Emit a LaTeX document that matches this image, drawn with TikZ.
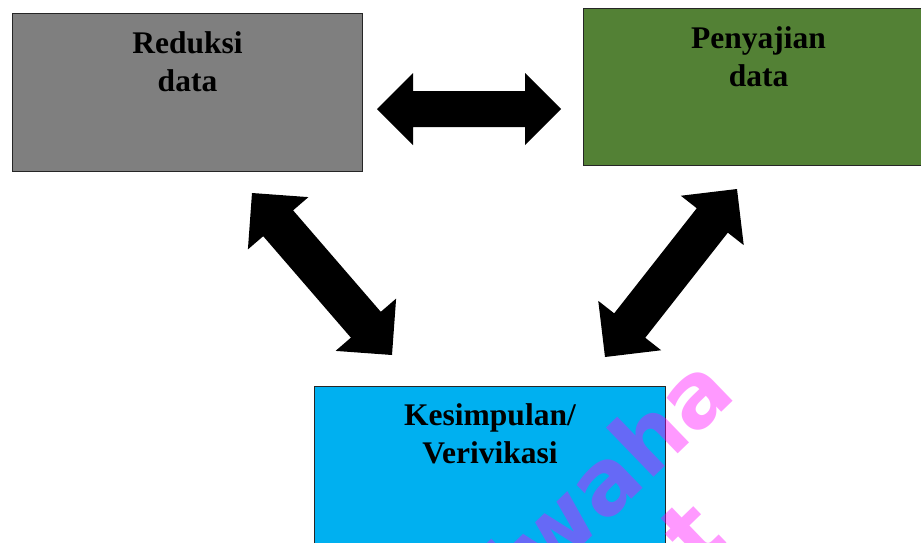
\documentclass[tikz,border=0pt]{standalone}
\usepackage{fontspec}
\setmainfont{Liberation Serif}
\newfontfamily\wmfont{DejaVu Sans}
\usetikzlibrary{calc,positioning}
\definecolor{reduksi}{HTML}{7F7F7F}
\definecolor{penyajian}{HTML}{538135}
\definecolor{kesimpulan}{HTML}{00B0F0}
\definecolor{wmpink}{RGB}{255,0,255}
% block arrow with a head at both tips: #1 head size, #2 half shaft, #3 and #4 tips
\newcommand{\dblarrow}[4]{%
  \coordinate (ha) at ($(#3)!#1!(#4)$);
  \coordinate (hb) at ($(#4)!#1!(#3)$);
  \fill[black] (#3) -- ($(ha)!#1!90:(#4)$) -- ($(ha)!#2!90:(#4)$) -- ($(hb)!#2!-90:(#3)$)
    -- ($(hb)!#1!-90:(#3)$) -- (#4) -- ($(hb)!#1!90:(#3)$) -- ($(hb)!#2!90:(#3)$)
    -- ($(ha)!#2!-90:(#4)$) -- ($(ha)!#1!-90:(#4)$) -- cycle;}
\tikzset{
  box/.style={draw=black!85, line width=1pt, anchor=north west, inner sep=0pt},
  lbl/.style={font=\bfseries\fontsize{31.5}{37.5}\selectfont, align=center, inner sep=0pt},
  mark wm/.style={font=\wmfont\bfseries\fontsize{90}{108}\selectfont, text=wmpink, text opacity=0.4, rotate=44, inner sep=0pt}
}
\begin{document}
\begin{tikzpicture}[x=1pt,y=-1pt]
      \clip (0,0) rectangle (921,542);
      \useasboundingbox (0,0) rectangle (921,542);
      % boxes
      \node[box, fill=reduksi, minimum width=350pt, minimum height=158pt] (red) at (12,13) {};
      \node[box, fill=penyajian, minimum width=350pt, minimum height=157pt] (pen) at (583,8) {};
      \node[box, fill=kesimpulan, minimum width=351pt, minimum height=180pt] (kes) at (314,386) {};
      % labels
      \node[lbl, below=18.5pt of red.north] (red-txt) {Reduksi\\data};
      \node[lbl, below=18.5pt of pen.north] (pen-txt) {Penyajian\\data};
      \node[lbl, below=17.5pt of kes.north] (kes-txt) {Kesimpulan/\\Verivikasi};
      % arrow tips
      \coordinate (rp-a) at (377,109);
      \coordinate (rp-b) at (561,109);
      \coordinate (rk-a) at (252,193);
      \coordinate (rk-b) at (392,355);
      \coordinate (pk-a) at (737,189);
      \coordinate (pk-b) at (605,357);
      % arrows
      \dblarrow{36pt}{18pt}{rp-a}{rp-b}
      \dblarrow{40pt}{19.75pt}{rk-a}{rk-b}
      \dblarrow{40pt}{19.75pt}{pk-a}{pk-b}
      % watermark
      \node[mark wm, anchor=base east] (wm-1) at (738,396) {iwaha};
      \node[mark wm] (wm-2) at (692,533) {t};
    \end{tikzpicture}
\end{document}
